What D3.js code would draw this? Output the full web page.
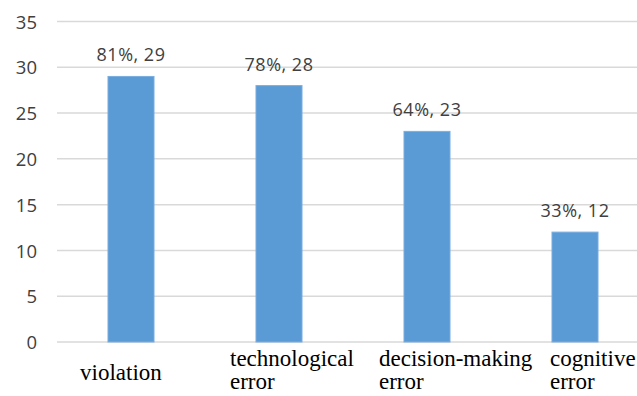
<!DOCTYPE html>
<html>
<head>
<meta charset="utf-8">
<script src="https://cdn.jsdelivr.net/npm/d3@7/dist/d3.min.js"></script>
<style>
  html, body { margin: 0; padding: 0; background: #fff; }
  svg { display: block; }
</style>
</head>
<body>
<svg id="chart" width="637" height="396"></svg>
<script>
// Error categories, counts and shares
const categories = ["violation", "technological error", "decision-making error", "cognitive error"];
const categoryLines = [["violation"], ["technological", "error"], ["decision-making", "error"], ["cognitive", "error"]];
const counts = [29, 28, 23, 12];
const shares = ["81%", "78%", "64%", "33%"];
const yTicks = [0, 5, 10, 15, 20, 25, 30, 35];

const W = 637, H = 396;
const svg = d3.select("#chart");

const x = d3.scaleBand()
  .domain(categories)
  .range([57, 649])
  .paddingInner(0.689)
  .paddingOuter(0.3445);

const y = d3.scaleLinear().domain([0, 35]).range([342, 21.5]);

// horizontal gridlines
svg.append("g")
  .selectAll("line")
  .data(yTicks)
  .join("line")
  .attr("x1", 57)
  .attr("x2", W)
  .attr("y1", d => y(d))
  .attr("y2", d => y(d))
  .attr("stroke", "#d9d9d9")
  .attr("stroke-width", 1.5);

// y axis labels
const yAxis = d3.axisLeft(y).tickValues(yTicks).tickSize(0).tickPadding(0);
const gy = svg.append("g").attr("transform", "translate(37,0)").call(yAxis);
gy.select(".domain").remove();
gy.selectAll("text")
  .attr("font-family", "'Open Sans', sans-serif")
  .attr("font-size", 18.5)
  .attr("fill", "#404040")
  .attr("dy", "0.36em");

// bars
svg.append("g")
  .selectAll("rect")
  .data(categories)
  .join("rect")
  .attr("x", d => x(d))
  .attr("y", (d, i) => y(counts[i]))
  .attr("width", x.bandwidth())
  .attr("height", (d, i) => y(0) - y(counts[i]))
  .attr("fill", "#5b9bd5")
  .attr("stroke", "#7aaee0")
  .attr("stroke-width", 1);

// value labels
svg.append("g")
  .selectAll("text")
  .data(categories)
  .join("text")
  .attr("x", d => x(d) + x.bandwidth() / 2)
  .attr("y", (d, i) => y(counts[i]) - 15)
  .attr("text-anchor", "middle")
  .attr("font-family", "'Open Sans', sans-serif")
  .attr("font-size", 18)
  .attr("letter-spacing", 0.5)
  .attr("fill", "#404040")
  .text((d, i) => `${shares[i]}, ${counts[i]}`);

// category labels, wrapped and left-aligned under each bar
const labelShift = [-51, -49, -48, -25];
const catG = svg.append("g")
  .selectAll("text")
  .data(categories)
  .join("text")
  .attr("font-family", "'Liberation Serif', 'Times New Roman', serif")
  .attr("font-size", 23)
  .attr("fill", "#000");

catG.each(function (d, i) {
  const lines = categoryLines[i];
  const cx = x(d) + x.bandwidth() / 2 + labelShift[i];
  const base = lines.length === 1 ? 380 : 366;
  d3.select(this).selectAll("tspan")
    .data(lines)
    .join("tspan")
    .attr("x", cx)
    .attr("y", (t, j) => base + j * 23)
    .text(t => t);
});
</script>
</body>
</html>
